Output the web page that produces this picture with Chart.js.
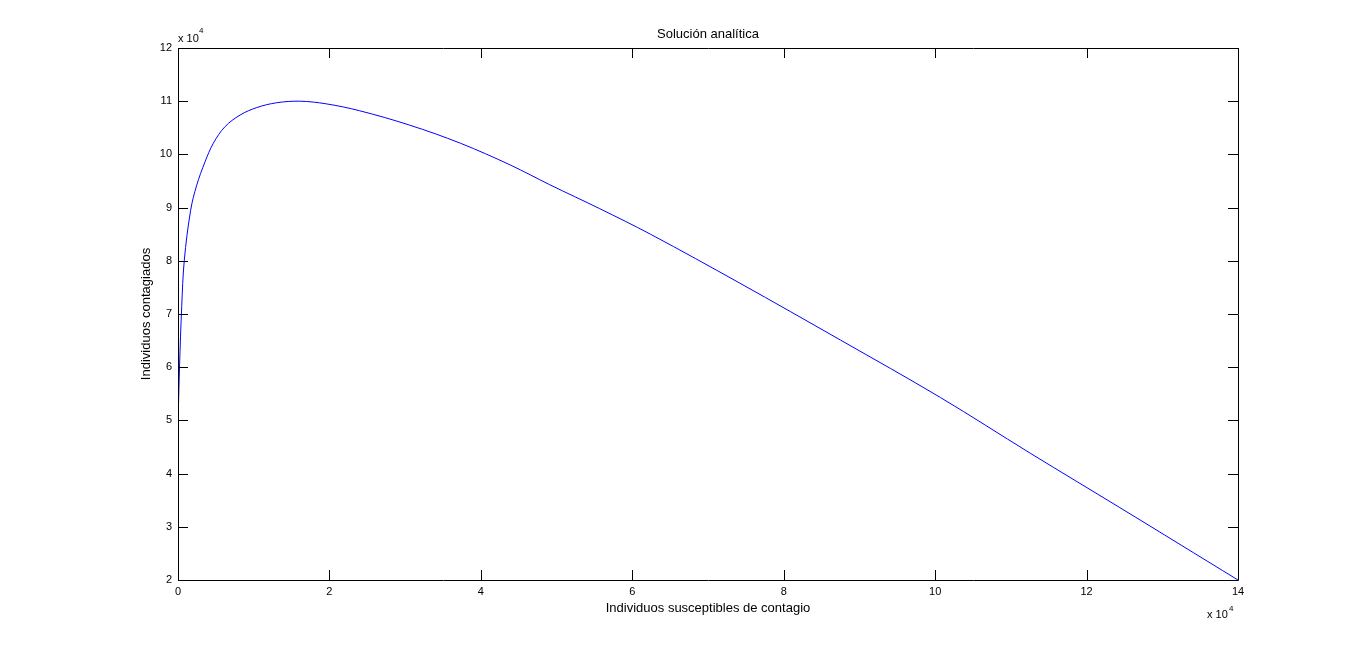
<!DOCTYPE html>
<html>
<head>
<meta charset="utf-8">
<script src="https://cdn.jsdelivr.net/npm/chart.js@4"></script>
<style>
html,body{margin:0;padding:0;background:#fff;}
#wrap{width:1367px;height:652px;position:relative;}
</style>
</head>
<body>
<div id="wrap"><canvas id="c" width="1367" height="652"></canvas></div>
<script>
// Susceptibles (S) and infected (I)
const susceptibles = [50, 200, 490, 830, 1670, 2470, 3570, 4670, 6200, 8200, 10400, 13000, 16100, 19600, 24000, 30600, 37300, 43900, 49100, 55700, 62400, 74200, 87500, 100700, 112600, 124400, 140000];
const contagiados = [52000, 60000, 71400, 80100, 89500, 94200, 98600, 102100, 105200, 107400, 108800, 109700, 110000, 109500, 108200, 105500, 102100, 98000, 94300, 89800, 85000, 75800, 65100, 54300, 43800, 33600, 20000];
const xTicks = [0, 2, 4, 6, 8, 10, 12, 14];
const yTicks = [2, 3, 4, 5, 6, 7, 8, 9, 10, 11, 12];
const titleText = 'Solución analítica';
const xLabel = 'Individuos susceptibles de contagio';
const yLabel = 'Individuos contagiados';

const points = susceptibles.map((s, i) => ({x: s, y: contagiados[i]}));
const FAM = '"Liberation Sans", Arial, sans-serif';
const FONT = '11px ' + FAM;
const BIG = '13px ' + FAM;
const SUP = '8px ' + FAM;

const decor = {
  id: 'decor',
  afterDraw(chart) {
    const {ctx, chartArea: a, scales} = chart;
    const xs = scales.x, ys = scales.y;
    ctx.save();
    ctx.strokeStyle = '#000';
    ctx.lineWidth = 1;
    ctx.beginPath();
    ctx.rect(Math.round(a.left) + 0.5, Math.round(a.top) + 0.5, Math.round(a.right - a.left), Math.round(a.bottom - a.top));
    ctx.stroke();
    const tl = 10;
    ctx.beginPath();
    xTicks.forEach(t => {
      const px = Math.round(xs.getPixelForValue(t * 1e4)) + 0.5;
      ctx.moveTo(px, a.bottom); ctx.lineTo(px, a.bottom - tl);
      ctx.moveTo(px, a.top); ctx.lineTo(px, a.top + tl);
    });
    yTicks.forEach(t => {
      const py = Math.round(ys.getPixelForValue(t * 1e4)) + 0.5;
      ctx.moveTo(a.left, py); ctx.lineTo(a.left + tl, py);
      ctx.moveTo(a.right, py); ctx.lineTo(a.right - tl, py);
    });
    ctx.stroke();
    ctx.fillStyle = '#000';
    ctx.font = BIG;
    ctx.textAlign = 'center';
    ctx.textBaseline = 'middle';
    ctx.fillText(titleText, (a.left + a.right) / 2, 34);
    ctx.fillText(xLabel, (a.left + a.right) / 2, 608);
    ctx.save();
    ctx.translate(146, (a.top + a.bottom) / 2);
    ctx.rotate(-Math.PI / 2);
    ctx.fillText(yLabel, 0, 0);
    ctx.restore();
    // exponent labels
    ctx.textAlign = 'left';
    ctx.font = FONT;
    ctx.fillText('x 10', 178, 39);
    ctx.font = SUP;
    ctx.fillText('4', 199, 31);
    ctx.font = FONT;
    ctx.fillText('x 10', 1207, 615);
    ctx.font = SUP;
    ctx.fillText('4', 1229, 609);
    ctx.restore();
  }
};

new Chart(document.getElementById('c'), {
  type: 'scatter',
  data: {
    datasets: [{
      data: points,
      showLine: true,
      borderColor: '#0000ff',
      borderWidth: 1,
      pointRadius: 0,
      tension: 0.35,
      fill: false
    }]
  },
  options: {
    responsive: false,
    animation: false,
    layout: {padding: {left: 0, right: 129, top: 48, bottom: 0}},
    plugins: {legend: {display: false}, title: {display: false}, tooltip: {enabled: false}},
    scales: {
      x: {
        type: 'linear', min: 0, max: 140000,
        afterBuildTicks(s) { s.ticks = xTicks.map(v => ({value: v * 1e4})); },
        afterFit(s) { s.height = 72; },
        grid: {display: false, drawTicks: false},
        border: {display: false},
        ticks: {color: '#000', font: {family: FAM, size: 11}, padding: 5, maxRotation: 0, autoSkip: false,
          callback: v => String(v / 1e4)}
      },
      y: {
        type: 'linear', min: 20000, max: 120000,
        afterBuildTicks(s) { s.ticks = yTicks.map(v => ({value: v * 1e4})); },
        afterFit(s) { s.width = 178; },
        grid: {display: false, drawTicks: false},
        border: {display: false},
        ticks: {color: '#000', font: {family: FAM, size: 11}, padding: 6, autoSkip: false,
          callback: v => String(v / 1e4)}
      }
    }
  },
  plugins: [decor]
});
</script>
</body>
</html>
